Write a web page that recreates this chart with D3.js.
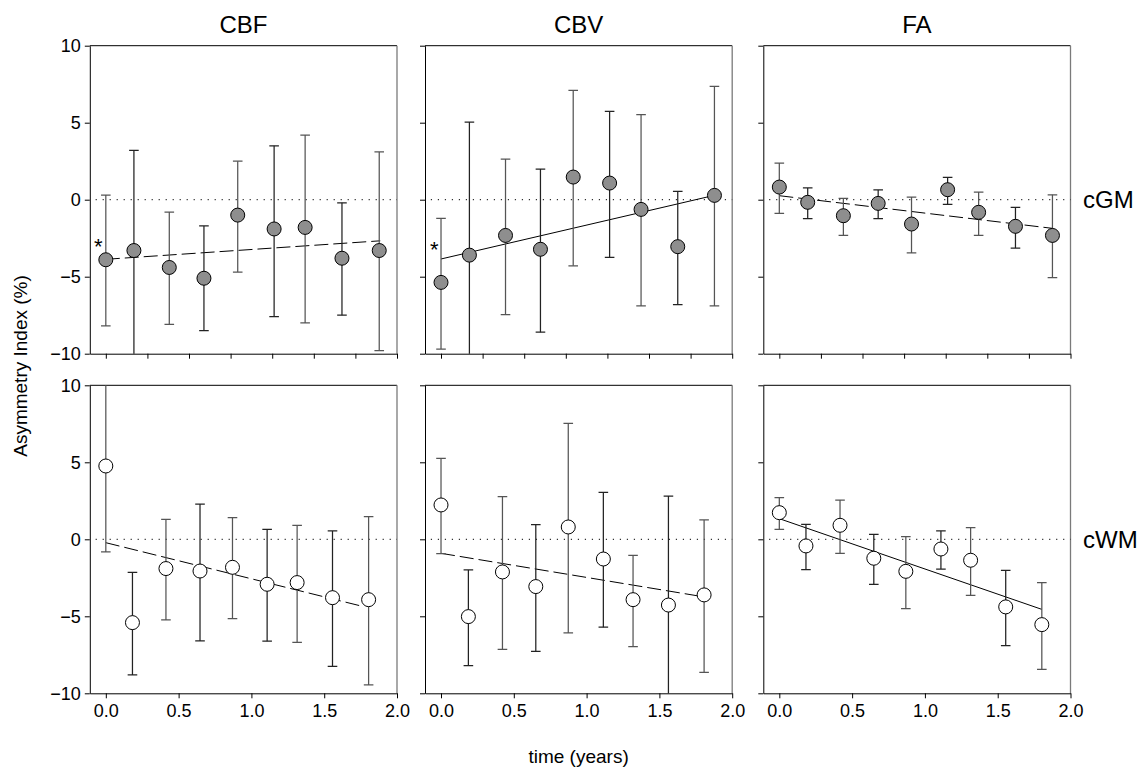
<!DOCTYPE html>
<html>
<head>
<meta charset="utf-8">
<script src="https://cdn.jsdelivr.net/npm/d3@7"></script>
<style>
  html, body { margin: 0; padding: 0; background: #fff; }
  svg { display: block; font-family: "Liberation Sans", Arial, sans-serif; }
</style>
</head>
<body>
<svg id="chart" width="1148" height="768"></svg>
<script>
// ---------- DATA ----------
const columnTitles = ["CBF", "CBV", "FA"];
const rowLabels = ["cGM", "cWM"];
const yTickValues = [-10, -5, 0, 5, 10];
const xTickValuesBottom = [0, 0.5, 1.0, 1.5, 2.0];
const xTickLabelsBottom = ["0.0", "0.5", "1.0", "1.5", "2.0"];

// CBF – cGM
const cbfGM_t    = [0, 0.193, 0.436, 0.674, 0.906, 1.156, 1.369, 1.622, 1.878];
const cbfGM_mean = [-3.9, -3.3, -4.4, -5.1, -1.0, -1.9, -1.8, -3.8, -3.3];
const cbfGM_hi   = [0.3, 3.2, -0.8, -1.7, 2.5, 3.5, 4.2, -0.2, 3.1];
const cbfGM_lo   = [-8.2, -12, -8.1, -8.5, -4.7, -7.6, -8.0, -7.5, -9.8];
const cbfGM_trend = [[0, -3.87], [1.885, -2.67]];
const cbfGM_star = [-0.052, -2.8];

// CBV – cGM
const cbvGM_t    = [0, 0.195, 0.443, 0.683, 0.908, 1.158, 1.374, 1.626, 1.878];
const cbvGM_mean = [-5.37, -3.6, -2.32, -3.22, 1.47, 1.08, -0.63, -3.05, 0.28];
const cbvGM_hi   = [-1.21, 5.04, 2.64, 1.99, 7.1, 5.74, 5.52, 0.54, 7.36];
const cbvGM_lo   = [-9.7, -12, -7.47, -8.6, -4.29, -3.74, -6.9, -6.82, -6.9];
const cbvGM_trend = [[0, -3.85], [1.885, 0.3]];
const cbvGM_star = [-0.046, -3.0];

// FA – cGM
const faGM_t    = [0, 0.195, 0.44, 0.679, 0.908, 1.156, 1.369, 1.622, 1.876];
const faGM_mean = [0.82, -0.17, -1.04, -0.24, -1.58, 0.65, -0.82, -1.73, -2.32];
const faGM_hi   = [2.38, 0.76, 0.09, 0.63, 0.17, 1.45, 0.5, -0.5, 0.32];
const faGM_lo   = [-0.89, -1.23, -2.32, -1.23, -3.46, -0.3, -2.32, -3.14, -5.06];
const faGM_trend = [[0, 0.26], [1.876, -1.86]];

// CBF – cWM
const cbfWM_t    = [0, 0.183, 0.413, 0.647, 0.87, 1.108, 1.314, 1.557, 1.805];
const cbfWM_mean = [4.76, -5.41, -1.9, -2.06, -1.82, -2.92, -2.81, -3.79, -3.92];
const cbfWM_hi   = [12, -2.14, 1.3, 2.29, 1.41, 0.65, 0.91, 0.54, 1.47];
const cbfWM_lo   = [-0.82, -8.81, -5.24, -6.6, -5.15, -6.62, -6.69, -8.25, -9.46];
const cbfWM_trend = [[0, -0.22], [1.77, -4.37]];

// CBV – cWM
const cbvWM_t    = [0, 0.188, 0.422, 0.651, 0.874, 1.115, 1.319, 1.562, 1.807];
const cbvWM_mean = [2.23, -5.02, -2.12, -3.07, 0.8, -1.28, -3.92, -4.27, -3.61];
const cbvWM_hi   = [5.26, -1.99, 2.77, 0.95, 7.53, 3.05, -1.04, 2.81, 1.26];
const cbvWM_lo   = [-0.93, -8.2, -7.14, -7.27, -6.08, -5.71, -6.97, -12, -8.64];
const cbvWM_trend = [[0, -0.91], [1.807, -3.74]];

// FA – cWM
const faWM_t    = [0, 0.183, 0.417, 0.649, 0.869, 1.11, 1.314, 1.555, 1.803];
const faWM_mean = [1.73, -0.43, 0.91, -1.23, -2.08, -0.63, -1.36, -4.39, -5.54];
const faWM_hi   = [2.71, 0.97, 2.55, 0.32, 0.17, 0.54, 0.76, -2.01, -2.81];
const faWM_lo   = [0.65, -1.97, -0.91, -2.92, -4.5, -1.93, -3.64, -6.9, -8.44];
const faWM_trend = [[0, 1.34], [1.803, -4.55]];

// ---------- PANELS (built from the arrays) ----------
const panels = [
  {row: 0, col: 0, t: cbfGM_t, m: cbfGM_mean, hi: cbfGM_hi, lo: cbfGM_lo, trend: cbfGM_trend, dashed: true,  star: cbfGM_star},
  {row: 0, col: 1, t: cbvGM_t, m: cbvGM_mean, hi: cbvGM_hi, lo: cbvGM_lo, trend: cbvGM_trend, dashed: false, star: cbvGM_star},
  {row: 0, col: 2, t: faGM_t,  m: faGM_mean,  hi: faGM_hi,  lo: faGM_lo,  trend: faGM_trend,  dashed: true},
  {row: 1, col: 0, t: cbfWM_t, m: cbfWM_mean, hi: cbfWM_hi, lo: cbfWM_lo, trend: cbfWM_trend, dashed: true},
  {row: 1, col: 1, t: cbvWM_t, m: cbvWM_mean, hi: cbvWM_hi, lo: cbvWM_lo, trend: cbvWM_trend, dashed: true},
  {row: 1, col: 2, t: faWM_t,  m: faWM_mean,  hi: faWM_hi,  lo: faWM_lo,  trend: faWM_trend,  dashed: false}
];

// ---------- LAYOUT ----------
const colLeft = [89.8, 425, 763.3];
const rowTop = [45.7, 385.3];
const W = 307.2, H = 308;
const fillByRow = ["#8e8e8e", "#ffffff"];

const svg = d3.select("#chart");
const x = d3.scaleLinear().domain([-0.11, 2.0]).range([0, W]);
const y = d3.scaleLinear().domain([-10, 10]).range([H, 0]);
const xTicksTop = d3.range(0, 8).map(i => i * 2 / 7);

const defs = svg.append("defs");
defs.append("clipPath").attr("id", "clipP")
  .append("rect").attr("x", -2).attr("y", 0).attr("width", W + 4).attr("height", H);

panels.forEach(p => {
  const g = svg.append("g").attr("transform", `translate(${colLeft[p.col]},${rowTop[p.row]})`);

  // frame: top (black) and right (gray)
  g.append("line").attr("x1", 0).attr("x2", W).attr("y1", 0).attr("y2", 0)
    .attr("stroke", "#000").attr("stroke-width", 1);
  g.append("line").attr("x1", W).attr("x2", W).attr("y1", 0).attr("y2", H)
    .attr("stroke", "#7a7a7a").attr("stroke-width", 1.3);

  // zero dotted line
  g.append("line").attr("x1", x(-0.07)).attr("x2", W).attr("y1", y(0)).attr("y2", y(0))
    .attr("stroke", "#000").attr("stroke-width", 1).attr("stroke-dasharray", "1.2,5.8");

  const plot = g.append("g").attr("clip-path", "url(#clipP)");

  // trend line
  plot.append("line")
    .attr("x1", x(p.trend[0][0])).attr("y1", y(p.trend[0][1]))
    .attr("x2", x(p.trend[1][0])).attr("y2", y(p.trend[1][1]))
    .attr("stroke", "#000").attr("stroke-width", 1)
    .attr("stroke-dasharray", p.dashed ? "14,5" : null);

  const idx = d3.range(p.t.length);
  // error bars
  const eb = plot.selectAll("g.eb").data(idx).join("g").attr("class", "eb")
    .attr("stroke", (d, i) => i % 2 ? "#222" : "#555").attr("stroke-width", 1.25);
  eb.append("line")
    .attr("x1", i => x(p.t[i])).attr("x2", i => x(p.t[i]))
    .attr("y1", i => y(p.hi[i])).attr("y2", i => y(p.lo[i]));
  eb.append("line")
    .attr("x1", i => x(p.t[i]) - 4.8).attr("x2", i => x(p.t[i]) + 4.8)
    .attr("y1", i => y(p.hi[i])).attr("y2", i => y(p.hi[i]));
  eb.append("line")
    .attr("x1", i => x(p.t[i]) - 4.8).attr("x2", i => x(p.t[i]) + 4.8)
    .attr("y1", i => y(p.lo[i])).attr("y2", i => y(p.lo[i]));

  // points
  g.selectAll("circle.pt").data(idx).join("circle").attr("class", "pt")
    .attr("cx", i => x(p.t[i])).attr("cy", i => y(p.m[i])).attr("r", 7)
    .attr("fill", fillByRow[p.row]).attr("stroke", "#000").attr("stroke-width", 1);

  if (p.star) {
    g.append("text").attr("x", x(p.star[0])).attr("y", y(p.star[1]) + 11)
      .attr("text-anchor", "middle").attr("font-size", 22).text("*");
  }

  // axes
  const yAxis = d3.axisLeft(y).tickValues(yTickValues).tickSize(5).tickSizeOuter(0);
  if (p.col > 0) yAxis.tickFormat("");
  const ya = g.append("g").call(yAxis);
  ya.selectAll("text").attr("font-size", 18).attr("fill", "#000")
    .attr("font-family", "Liberation Sans, Arial, sans-serif").attr("dx", -1);

  const xAxis = d3.axisBottom(x).tickSize(5).tickSizeOuter(0);
  if (p.row === 0) xAxis.tickValues(xTicksTop).tickFormat("");
  else xAxis.tickValues(xTickValuesBottom).tickFormat((d, i) => xTickLabelsBottom[i]);
  const xa = g.append("g").attr("transform", `translate(0,${H})`).call(xAxis);
  xa.selectAll("text").attr("font-size", 18).attr("fill", "#000")
    .attr("font-family", "Liberation Sans, Arial, sans-serif").attr("dy", "0.9em");

  [ya, xa].forEach(a => {
    a.select(".domain").attr("stroke", "#000").attr("stroke-width", 1);
    a.selectAll(".tick line").attr("stroke", "#000");
  });
});

// column titles
columnTitles.forEach((t, c) => {
  svg.append("text").attr("x", colLeft[c] + W / 2).attr("y", 33)
    .attr("text-anchor", "middle").attr("font-size", 24).text(t);
});
// row labels
rowLabels.forEach((t, r) => {
  svg.append("text").attr("x", 1083).attr("y", rowTop[r] + y(0))
    .attr("dominant-baseline", "central").attr("font-size", 24).text(t);
});
// axis titles
svg.append("text").attr("x", colLeft[1] + W / 2).attr("y", 756)
  .attr("text-anchor", "middle").attr("dominant-baseline", "central")
  .attr("font-size", 19).text("time (years)");
svg.append("text").attr("transform", "translate(20,366) rotate(-90)")
  .attr("text-anchor", "middle").attr("dominant-baseline", "central")
  .attr("font-size", 19).text("Asymmetry Index (%)");
</script>
</body>
</html>
